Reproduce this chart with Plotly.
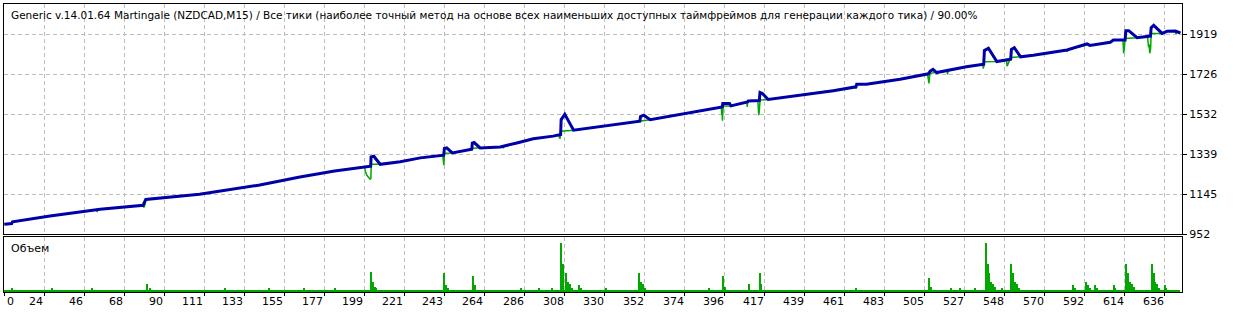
import plotly.graph_objects as go

# ---------------- data ----------------
# Balance curve vertices: trade number -> balance
bal_trade = [0, 4, 4.5, 25, 52.5, 76, 77.5, 107, 140, 162, 181, 197.5, 200.8, 201, 202.5, 206,
             217, 228, 240.8, 241.2, 242.5, 245.5, 250, 256.2, 256.5, 257.5, 260.8, 271.8, 280.9,
             289.9, 300.8, 304.9, 305.2, 307.2, 312, 326.6, 348.3, 348.7, 350.5, 354, 370.5, 381.4,
             393.5, 393.8, 397.5, 398.3, 407.3, 407.8, 413.8, 414.2, 415.5, 418.7, 436.3, 454.4,
             466.8, 467.2, 472.5, 491, 506.5, 507.5, 509, 511, 527.3, 536.8, 537.2, 539.4, 544,
             551.6, 552, 553.6, 557, 564, 582.5, 592, 593.4, 595, 600.8, 606.2, 607.9, 614.3,
             614.7, 616.3, 620.9, 628.2, 628.6, 630, 634.6, 637.3, 641.9, 644.6]
bal_value = [1000, 1004, 1012, 1040, 1073, 1092, 1120, 1145, 1190, 1229, 1258, 1279, 1281, 1326, 1329, 1290,
             1302, 1321, 1334, 1366, 1369, 1345, 1353, 1363, 1392, 1395, 1369, 1374, 1393,
             1413, 1426, 1434, 1506, 1531, 1455, 1471, 1498, 1520, 1527, 1505, 1530, 1548,
             1567, 1584, 1584, 1572, 1591, 1596, 1598, 1637, 1632, 1603, 1624, 1645,
             1664, 1677, 1677, 1701, 1727, 1740, 1748, 1733, 1761, 1773, 1840, 1850, 1786,
             1797, 1845, 1853, 1809, 1817, 1842, 1865, 1872, 1864, 1872, 1879, 1890, 1890,
             1935, 1935, 1901, 1909, 1950, 1961, 1922, 1932, 1933, 1924]

# Equity curve vertices: trade number -> equity
eq_trade = [0, 4, 4.5, 25, 50.5, 50.8, 51.2, 52.5, 76, 76.5, 77, 77.5, 107, 140, 162, 181, 197.5,
            197.8, 198.7, 200.5, 200.9, 201.1, 206, 217, 228, 240.3, 240.5, 240.7, 240.9, 241.2,
            245.5, 250, 256.2, 256.6, 260.8, 271.8, 273.2, 273.5, 273.8, 280.9, 289.9, 300.8,
            303.5, 304, 304.6, 305.1, 312, 326.6, 348.3, 348.7, 354, 370.5, 381.4, 393, 393.2,
            393.4, 393.6, 394, 398.3, 407, 407.2, 407.5, 413, 413.2, 413.5, 413.8, 414.2, 418.7,
            436.3, 454.4, 466.5, 466.8, 467.2, 472.5, 491, 506, 506.4, 506.8, 507.3, 511, 516.7,
            517, 517.3, 527.3, 536.3, 536.5, 536.8, 537.2, 544, 549.3, 549.6, 550.2, 551.6, 557,
            564, 582.3, 582.5, 582.8, 592, 593.4, 595, 600.8, 606.2, 607.9, 613, 613.2, 613.5,
            613.9, 614.3, 620.9, 626.6, 626.9, 627.2, 627.5, 627.8, 628.3, 628.6, 634.6, 637.3,
            641.9, 642.2, 642.6, 644.6]
eq_value = [1000, 1004, 1012, 1040, 1071, 1060, 1072, 1073, 1092, 1082, 1092, 1120, 1145, 1190, 1229, 1258, 1279,
            1258, 1237, 1218, 1222, 1290, 1290, 1302, 1321, 1333, 1305, 1320, 1286, 1343,
            1345, 1353, 1363, 1368, 1369, 1374, 1376, 1368, 1376, 1393, 1413, 1426,
            1432, 1425, 1414, 1450, 1455, 1471, 1498, 1500, 1505, 1530, 1548, 1566, 1530,
            1550, 1500, 1572, 1572, 1590, 1567, 1596, 1597, 1540, 1527, 1545, 1600, 1603,
            1624, 1645, 1663, 1655, 1677, 1677, 1701, 1726, 1700, 1681, 1729, 1733, 1740,
            1724, 1741, 1761, 1772, 1753, 1760, 1785, 1786, 1796, 1764, 1775, 1806, 1809,
            1817, 1842, 1833, 1843, 1865, 1866, 1864, 1872, 1879, 1890, 1889, 1882, 1826,
            1850, 1898, 1901, 1908, 1880, 1855, 1870, 1826, 1850, 1922, 1922, 1932,
            1933, 1919, 1932, 1924]

# Volume (lots) per trade: most trades use the base lot, these trades used more
n_trades = 645
base_lot = 0.01
big_lot_trade = [4, 26, 48, 78, 80, 121, 145, 164, 181, 201, 202, 203, 204, 241, 242, 243, 257, 258,
                 283, 293, 300, 305, 306, 308, 309, 310, 311, 315, 316, 330, 348, 349, 350, 351, 386,
                 394, 395, 408, 414, 415, 467, 507, 508, 519, 524, 532, 538, 539, 540, 541, 542, 543,
                 547, 552, 553, 554, 555, 556, 586, 587, 593, 594, 595, 598, 599, 608, 609,
                 615, 616, 617, 618, 619, 629, 630, 631, 632, 633, 636, 637]
big_lot_value = [0.04, 0.04, 0.04, 0.08, 0.04, 0.04, 0.04, 0.04, 0.04, 0.20, 0.10, 0.05, 0.04, 0.19, 0.07, 0.04, 0.16, 0.07,
                 0.04, 0.04, 0.04, 0.49, 0.28, 0.19, 0.10, 0.08, 0.04, 0.07, 0.04, 0.04, 0.19, 0.10, 0.08, 0.04, 0.04,
                 0.16, 0.05, 0.08, 0.19, 0.08, 0.04, 0.14, 0.05, 0.04, 0.04, 0.04, 0.49, 0.28, 0.19, 0.10, 0.08, 0.05,
                 0.04, 0.28, 0.19, 0.10, 0.08, 0.04, 0.07, 0.04, 0.10, 0.07, 0.04, 0.07, 0.04, 0.07, 0.04,
                 0.28, 0.19, 0.10, 0.08, 0.05, 0.28, 0.19, 0.10, 0.08, 0.04, 0.07, 0.04]

x_tick_labels = ["0", "24", "46", "68", "90", "111", "133", "155", "177", "199", "221", "243", "264",
                 "286", "308", "330", "352", "374", "396", "417", "439", "461", "483", "505", "527",
                 "548", "570", "592", "614", "636"]
y_tick_values = [952, 1145, 1339, 1532, 1726, 1919]

title_text = ("Generic v.14.01.64 Martingale (NZDCAD,M15) / Все тики (наиболее точный метод на основе "
              "всех наименьших доступных таймфреймов для генерации каждого тика) / 90.00%")
volume_label = "Объем"

# ---------------- figure ----------------
W, H = 1236, 312
ML, MR, MT, MB = 4, 54, 4, 20
plot_h = H - MT - MB
main_bottom_px = 234.3
vol_top_px = 237.3
main_dom = [(H - MB - main_bottom_px) / plot_h, 1]
vol_dom = [0, (H - MB - vol_top_px) / plot_h]

volume = [base_lot] * n_trades
for t, v in zip(big_lot_trade, big_lot_value):
    volume[t] = v

x_step = 636 / 29
x_grid = [k * x_step for k in range(len(x_tick_labels))]
x_range = [-0.2, 645.5]

FONT = "DejaVu Sans"
BLUE = "#0000A8"
GREEN = "#00A800"
GRID = "#BDBDBD"
GDASH = "4px,3px"

fig = go.Figure()
fig.add_trace(go.Scatter(x=eq_trade, y=eq_value, mode="lines",
                         line=dict(color=GREEN, width=1.5), xaxis="x", yaxis="y",
                         hoverinfo="skip"))
fig.add_trace(go.Scatter(x=bal_trade, y=bal_value, mode="lines",
                         line=dict(color=BLUE, width=3), xaxis="x", yaxis="y",
                         hoverinfo="skip"))
fig.add_trace(go.Bar(x=list(range(n_trades)), y=volume, xaxis="x2", yaxis="y2",
                     width=0.5, marker=dict(color=GREEN, line=dict(width=0)),
                     hoverinfo="skip"))

common_x = dict(range=x_range, tickmode="array", tickvals=x_grid, showgrid=True,
                gridcolor=GRID, griddash=GDASH, gridwidth=1, zeroline=False,
                showline=True, mirror=True, linecolor="black", linewidth=1,
                showticklabels=False)

fig.update_layout(
    width=W, height=H,
    margin=dict(l=ML, r=MR, t=MT, b=MB, pad=0),
    paper_bgcolor="white", plot_bgcolor="white",
    showlegend=False, hovermode=False, bargap=0,
    xaxis=dict(domain=[0, 1], anchor="y", ticks="", **common_x),
    xaxis2=dict(domain=[0, 1], anchor="y2", matches="x", ticks="outside", ticklen=3,
                tickcolor="black", **common_x),
    yaxis=dict(domain=main_dom, range=[952, 2064], side="right", tickmode="array",
               tickvals=y_tick_values, ticktext=[str(v) for v in y_tick_values],
               ticks="outside", ticklen=4, tickcolor="black",
               tickfont=dict(family=FONT, size=11, color="black"),
               showgrid=True, gridcolor=GRID, griddash=GDASH, zeroline=False,
               showline=True, mirror=True, linecolor="black", linewidth=1),
    yaxis2=dict(domain=vol_dom, range=[0, 0.545], showgrid=False, zeroline=False,
                showticklabels=False, ticks="", showline=True, mirror=True,
                linecolor="black", linewidth=1),
)

def px_to_paper_y(py):
    return (H - MB - py) / plot_h

def px_to_paper_x(px):
    return (px - ML) / (W - ML - MR)

annotations = [
    dict(text=title_text, xref="paper", yref="paper", x=px_to_paper_x(9), y=px_to_paper_y(15),
         xanchor="left", yanchor="middle", showarrow=False,
         font=dict(family=FONT, size=10.5, color="black")),
    dict(text=volume_label, xref="paper", yref="paper", x=px_to_paper_x(9), y=px_to_paper_y(248),
         xanchor="left", yanchor="middle", showarrow=False,
         font=dict(family=FONT, size=11, color="black")),
]
for i, (pos, lab) in enumerate(zip(x_grid, x_tick_labels)):
    if i == 0:
        annotations.append(dict(text=lab, xref="x2", yref="paper", x=pos, y=px_to_paper_y(301.5),
                                xanchor="left", yanchor="middle", xshift=1, showarrow=False,
                                font=dict(family=FONT, size=11, color="black")))
    else:
        annotations.append(dict(text=lab, xref="x2", yref="paper", x=pos, y=px_to_paper_y(301.5),
                                xanchor="right", yanchor="middle", xshift=1, showarrow=False,
                                font=dict(family=FONT, size=11, color="black")))
fig.update_layout(annotations=annotations)

fig.write_html("out.html")
